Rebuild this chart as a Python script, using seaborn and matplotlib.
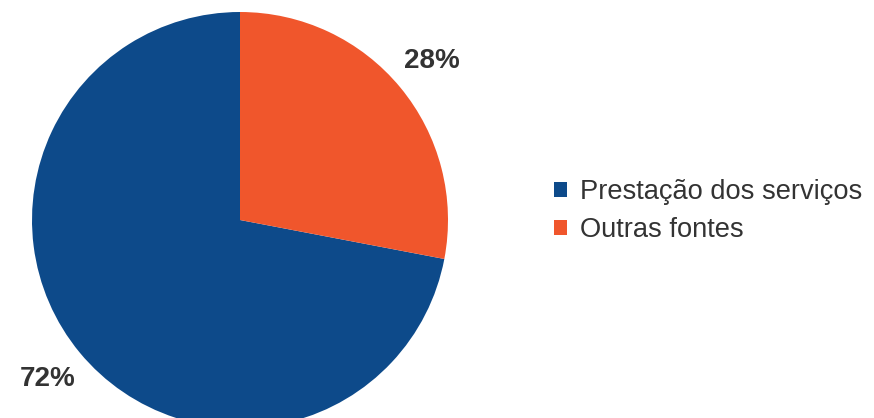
import matplotlib
matplotlib.use("Agg")
import seaborn as sns
import matplotlib.pyplot as plt

# data
labels = ["Prestação dos serviços", "Outras fontes"]
values = [72, 28]
colors = ["#0d4a8a", "#f0562c"]

sns.set_theme(style="white")
plt.rcParams['font.family'] = ['Liberation Sans', 'DejaVu Sans']

fig = plt.figure(figsize=(8.74, 4.18), dpi=100)
# pie axes: centre (240, 220) px, radius 208 px
ax = fig.add_axes([32 / 874, (418 - 220 - 208) / 418, 416 / 874, 416 / 418])

wedges, texts, autotexts = ax.pie(values, colors=sns.color_palette(colors), startangle=90,
                                  counterclock=True, autopct='%d%%', pctdistance=1.2,
                                  radius=1, wedgeprops=dict(linewidth=0))
for t in autotexts:
    t.set_fontsize(20)
    t.set_fontweight('bold')
    t.set_color('#333333')
ax.set_xlim(-1, 1)
ax.set_ylim(-1, 1)
ax.set_aspect('equal')
ax.axis('off')

fig.legend(wedges, labels, loc='center left', bbox_to_anchor=(529 / 874, 1 - 211 / 418),
           frameon=False, fontsize=19.6, handlelength=0.48, handleheight=0.48,
           handletextpad=0.5, labelspacing=0.45, labelcolor='#333333')

fig.savefig("out.png", dpi=100)
